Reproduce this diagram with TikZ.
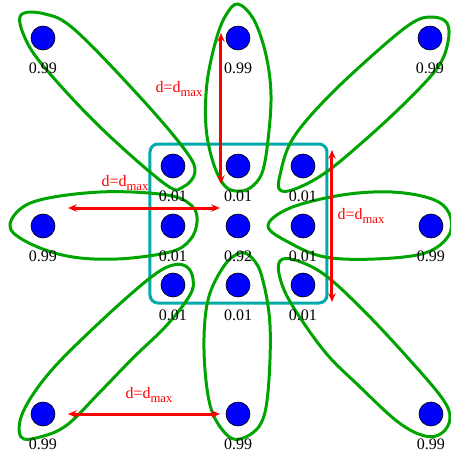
\documentclass[tikz,border=0pt]{standalone}
\usepackage{fontspec}
\setmainfont{Liberation Serif}
\usetikzlibrary{arrows.meta}
\definecolor{dotfill}{HTML}{0000FF}
\definecolor{groupline}{HTML}{00A400}
\definecolor{boxline}{HTML}{00AAAA}
\definecolor{distline}{HTML}{FF0000}
\newcommand{\dmax}{d=d\raisebox{-3.5pt}{\fontsize{9.5}{10}\selectfont max}}

\begin{document}
\begin{tikzpicture}[
  x=0.75pt, y=-0.75pt,
  dot/.style={circle, draw=black, line width=0.5pt, fill=dotfill, minimum size=18pt, inner sep=0pt},
  prob/.style={font=\fontsize{12}{14}\selectfont, inner sep=0pt, label distance=9.5pt},
  group/.style={draw=groupline, line width=2.25pt},
  window/.style={draw=boxline, line width=2.25pt, rounded corners=6pt},
  dist/.style={{Stealth[length=6.5pt,width=5.5pt]}-{Stealth[length=6.5pt,width=5.5pt]}, draw=distline, line width=2.25pt},
  distlabel/.style={text=distline, font=\fontsize{12}{14}\selectfont, inner sep=0pt}
]
\useasboundingbox (0,0) rectangle (451,455);

% window of the centre cell
\draw[window] (150,144) rectangle (327,303);

% groups
\draw[group] plot[smooth cycle, tension=0.6] coordinates {(21,15) (45,14) (75,30) (140,97) (185,150) (195,172) (183,187) (165,184) (100,127) (45,68) (25,38)};
\draw[group] plot[smooth cycle, tension=0.6] coordinates {(238,4) (254,20) (266,55) (271,95) (268,140) (262,173) (250,188) (236,191) (224,185) (213,162) (206,127) (207,83) (216,40) (226,15)};
\draw[group] plot[smooth cycle, tension=0.6] coordinates {(280,190) (280,175) (292,140) (325,100) (375,53) (412,23) (432,17) (447,23) (448,42) (438,67) (408,100) (365,140) (325,173) (295,189)};
\draw[group] plot[smooth cycle, tension=0.6] coordinates {(10,224) (33,202) (100,192) (167,195) (192,206) (197,222) (190,240) (170,252) (117,259) (67,256) (25,241)};
\draw[group] plot[smooth cycle, tension=0.6] coordinates {(268,226) (290,208) (342,195) (392,192) (432,199) (449,213) (449,235) (425,253) (375,259) (325,257) (290,243)};
\draw[group] plot[smooth cycle, tension=0.6] coordinates {(21,437) (23,412) (50,372) (100,322) (150,278) (173,265) (187,267) (193,279) (190,295) (167,325) (133,358) (100,392) (67,425) (40,437)};
\draw[group] plot[smooth cycle, tension=0.6] coordinates {(240,253) (252,258) (262,277) (270,325) (268,392) (260,425) (240,439) (225,433) (210,405) (204,350) (208,300) (224,266)};
\draw[group] plot[smooth cycle, tension=0.6] coordinates {(280,261) (295,260) (325,275) (365,312) (408,358) (442,398) (450,418) (442,433) (425,436) (398,422) (358,385) (325,352) (292,305) (280,278)};

% outer cells
\node[dot, label={[prob]below:0.99}] (tl) at (43,38) {};
\node[dot, label={[prob]below:0.99}] (tm) at (238,38) {};
\node[dot, label={[prob]below:0.99}] (tr) at (430,38) {};
\node[dot, label={[prob]below:0.99}] (ml) at (43,226) {};
\node[dot, label={[prob]below:0.99}] (mr) at (431,226) {};
\node[dot, label={[prob]below:0.99}] (bl) at (43,414) {};
\node[dot, label={[prob]below:0.99}] (bm) at (238,414) {};
\node[dot, label={[prob]below:0.99}] (br) at (431,414) {};

% inner cells
\node[dot, label={[prob]below:0.01}] (nw) at (173,166) {};
\node[dot, label={[prob]below:0.01}] (n) at (238,166) {};
\node[dot, label={[prob]below:0.01}] (ne) at (303,166) {};
\node[dot, label={[prob]below:0.01}] (w) at (173,226) {};
\node[dot, label={[prob]below:0.92}] (c) at (238,226) {};
\node[dot, label={[prob]below:0.01}] (e) at (303,226) {};
\node[dot, label={[prob]below:0.01}] (sw) at (173,285) {};
\node[dot, label={[prob]below:0.01}] (s) at (238,285) {};
\node[dot, label={[prob]below:0.01}] (se) at (303,285) {};

% distances
\coordinate (dtop1) at (221,33);
\coordinate (dtop2) at (221,184);
\coordinate (dleft1) at (68,208);
\coordinate (dleft2) at (220,208);
\coordinate (dright1) at (332,150);
\coordinate (dright2) at (332,302);
\coordinate (dbot1) at (68,414);
\coordinate (dbot2) at (220,414);

\draw[dist] (dtop1) -- (dtop2);
\draw[dist] (dleft1) -- (dleft2);
\draw[dist] (dright1) -- (dright2);
\draw[dist] (dbot1) -- (dbot2);

\node[distlabel] (ltop) at (179,89) {\dmax};
\node[distlabel] (lleft) at (125,183) {\dmax};
\node[distlabel] (lright) at (361,216) {\dmax};
\node[distlabel] (lbot) at (149,395) {\dmax};

\end{tikzpicture}
\end{document}
